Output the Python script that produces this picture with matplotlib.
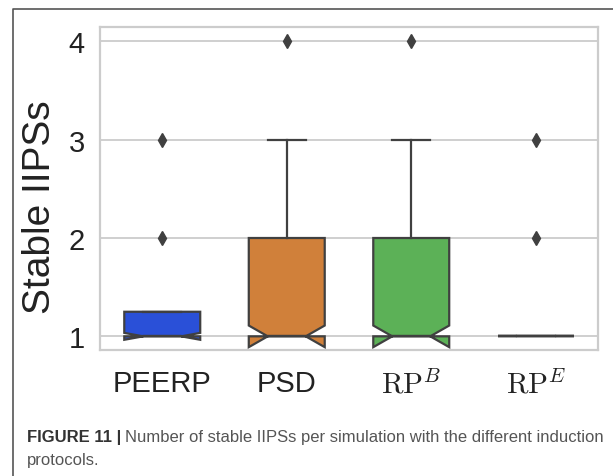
import matplotlib
matplotlib.use("Agg")
import matplotlib.pyplot as plt
from matplotlib.lines import Line2D

# Summary statistics per induction protocol (number of stable IIPSs)
protocols = ['PEERP', 'PSD', r'$\mathrm{RP}^{B}$', r'$\mathrm{RP}^{E}$']
q1 = [1, 1, 1, 1]
median = [1, 1, 1, 1]
q3 = [1.25, 2, 2, 1]
whisker_lo = [1, 1, 1, 1]
whisker_hi = [1.25, 3, 3, 1]
notch_lo = [0.965, 0.89, 0.89, 1]
notch_hi = [1.035, 1.11, 1.11, 1]
outliers = [[2, 3], [4], [4], [2, 3]]
box_colors = ['#2a50d8', '#d0803a', '#5cb157', '#9b6ad0']

plt.rcParams['mathtext.fontset'] = 'cm'
line_col = '#404040'
grid_col = '#cccccc'

fig = plt.figure(figsize=(6.13, 4.77), dpi=100)
ax = fig.add_axes([100 / 613, 126 / 477, 498 / 613, 323 / 477])

stats = []
for i, name in enumerate(protocols):
    stats.append({
        'label': name,
        'q1': q1[i], 'med': median[i], 'q3': q3[i],
        'whislo': whisker_lo[i], 'whishi': whisker_hi[i],
        'cilo': notch_lo[i], 'cihi': notch_hi[i],
        'fliers': outliers[i],
    })

bp = ax.bxp(stats, positions=range(len(protocols)), widths=0.61,
            shownotches=True, patch_artist=True,
            boxprops=dict(edgecolor=line_col, linewidth=1.6),
            medianprops=dict(color=line_col, linewidth=1.6),
            whiskerprops=dict(color=line_col, linewidth=1.6),
            capprops=dict(color=line_col, linewidth=1.6),
            flierprops=dict(marker='d', markerfacecolor=line_col,
                            markeredgecolor=line_col, markersize=7))
for patch, col in zip(bp['boxes'], box_colors):
    patch.set_facecolor(col)

ax.set_xlim(-0.5, 3.5)
ax.set_ylim(0.861, 4.146)
ax.set_yticks([1, 2, 3, 4])
ax.set_yticklabels(['1', '2', '3', '4'])
ax.set_xticks(range(len(protocols)))
ax.set_xticklabels(protocols)
ax.yaxis.grid(True, color=grid_col, linewidth=1.3)
ax.set_axisbelow(True)
for sp in ax.spines.values():
    sp.set_color(grid_col)
    sp.set_linewidth(1.6)
ax.tick_params(axis='both', length=0, labelsize=21, labelcolor='#222222')
ax.tick_params(axis='y', pad=11)
ax.tick_params(axis='x', pad=14)
for lbl in ax.get_xticklabels() + ax.get_yticklabels():
    lbl.set_family('Liberation Sans')

ax.set_ylabel('Stable IIPSs', fontsize=28, family='Liberation Sans',
              color='#222222')
ax.yaxis.set_label_coords(-0.085, 0.446)

# outer frame of the figure panel
fig.add_artist(Line2D([13 / 613, 13 / 613, 1.0], [0.0, 1 - 10 / 477, 1 - 10 / 477],
                      transform=fig.transFigure, color='#555555', linewidth=1.2))

# caption
cap_font = ['Liberation Sans', 'DejaVu Sans']
t1 = fig.text(27 / 613, 1 - 442 / 477, 'FIGURE 11 |', fontsize=12,
              family=cap_font, weight='bold', color='#333333', va='baseline')
fig.canvas.draw()
bb = t1.get_window_extent(fig.canvas.get_renderer())
fig.text(bb.x1 / fig.bbox.width + 4 / 613, 1 - 442 / 477,
         'Number of stable IIPSs per simulation with the different induction',
         fontsize=12, family=cap_font, color='#555555', va='baseline')
fig.text(27 / 613, 1 - 465 / 477, 'protocols.', fontsize=12,
         family=cap_font, color='#555555', va='baseline')

fig.savefig('out.png', dpi=100)
